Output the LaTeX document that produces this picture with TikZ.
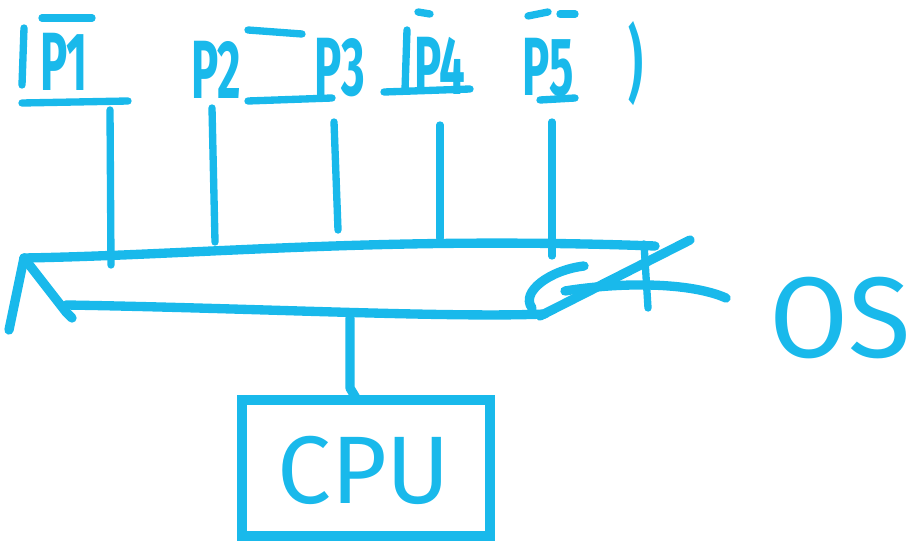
\documentclass[tikz,border=0pt]{standalone}
\usepackage{fontspec}
\setmainfont{Fira Sans}
\definecolor{ink}{RGB}{25,185,235}
\begin{document}
\begin{tikzpicture}[x=0.75pt,y=-0.75pt,
  pen/.style={draw=ink,line width=7pt,line cap=round,line join=round},
  thin pen/.style={draw=ink,line width=5.5pt,line cap=round},
  lab/.style={text=ink,font=\fontsize{62}{62}\selectfont\bfseries,xscale=0.55,inner sep=0pt},
  big/.style={text=ink,font=\fontsize{72}{72}\selectfont,inner sep=0pt}]
\useasboundingbox (0,0) rectangle (923,552);
% process labels
\node[lab] (p1) at (64,62) {P1};
\node[lab] (p2) at (216,70) {P2};
\node[lab] (p3) at (340,68) {P3};
\node[lab] (p4) at (440,66) {P4};
\node[lab] (p5) at (548,68) {P5};
\node[lab] (pr) at (636,64) {)};
% strokes around labels
\draw[thin pen] (24,28) -- (22,85);
\draw[thin pen] (42,18) -- (92,18);
\draw[thin pen] (22,103) -- (128,101);
\draw[thin pen] (248,30) -- (302,34);
\draw[thin pen] (248,101) -- (332,98);
\draw[thin pen] (384,92) -- (470,89);
\draw[thin pen] (407,30) -- (405,90);
\draw[thin pen] (418,12) -- (430,14);
\draw[thin pen] (528,16) -- (548,12);
\draw[thin pen] (540,100) -- (575,98);
\draw[thin pen] (560,14) -- (575,14);
% drops from processes to bus
\coordinate (d1) at (110,110); \coordinate (b1) at (111,265);
\coordinate (d2) at (212,108); \coordinate (b2) at (215,242);
\coordinate (d3) at (334,122); \coordinate (b3) at (338,230);
\coordinate (d4) at (440,125); \coordinate (b4) at (440,238);
\coordinate (d5) at (552,122); \coordinate (b5) at (552,256);
\draw[thin pen] (d1) -- (b1);
\draw[thin pen] (d2) -- (b2);
\draw[thin pen] (d3) -- (b3);
\draw[thin pen] (d4) -- (b4);
\draw[thin pen] (d5) -- (b5);
% bus shape
\coordinate (tl) at (24,258);
\draw[pen] (tl) .. controls (200,255) and (380,236) .. (655,246);
\draw[pen] (tl) -- (9,330);
\draw[pen] (tl) -- (66,312) -- (72,318);
\draw[pen] (66,305) .. controls (250,308) and (450,318) .. (545,314);
\draw[pen] (584,266) .. controls (550,270) and (520,292) .. (532,308);
\draw[pen] (540,316) -- (690,240);
\draw[pen] (565,291) .. controls (620,282) and (690,282) .. (726,298);
\draw[thin pen] (644,244) -- (648,308);
% CPU
\node[draw=ink,line width=7pt,minimum width=186pt,minimum height=102pt,inner sep=0pt] (cpu) at (366,468) {};
\node[big] (cputxt) at (364,470) {CPU};
\coordinate (bb) at (350,318);
\draw[pen] (bb) -- (350,388) -- (356,398);
% OS
\node[big,font=\fontsize{86}{86}\selectfont] (os) at (840,318) {OS};
\end{tikzpicture}
\end{document}
